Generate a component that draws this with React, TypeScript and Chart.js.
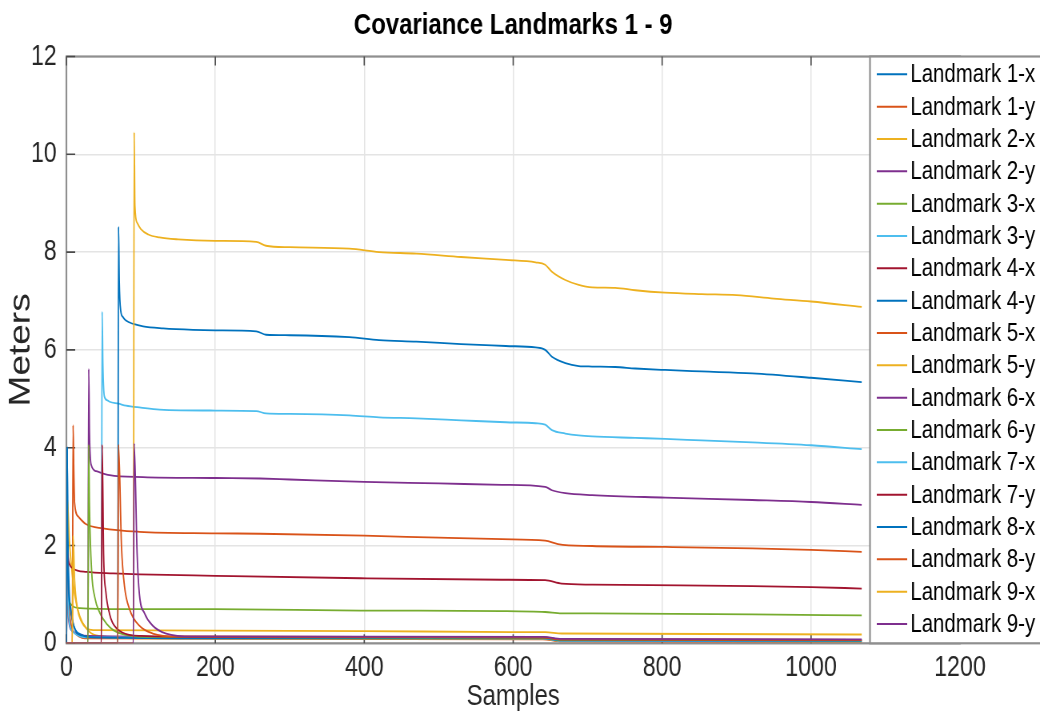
import React, { useEffect, useRef } from 'react';
import { Chart, registerables } from 'chart.js';

Chart.register(...registerables);

// ---------- data (sample, meters) ----------
const seriesNames = [
  'Landmark 1-x', 'Landmark 1-y', 'Landmark 2-x', 'Landmark 2-y', 'Landmark 3-x', 'Landmark 3-y',
  'Landmark 4-x', 'Landmark 4-y', 'Landmark 5-x', 'Landmark 5-y', 'Landmark 6-x', 'Landmark 6-y',
  'Landmark 7-x', 'Landmark 7-y', 'Landmark 8-x', 'Landmark 8-y', 'Landmark 9-x', 'Landmark 9-y',
];

const seriesColors = [
  '#0072BD', '#D95319', '#EDB120', '#7E2F8E', '#77AC30', '#4DBEEE', '#A2142F',
  '#0072BD', '#D95319', '#EDB120', '#7E2F8E', '#77AC30', '#4DBEEE', '#A2142F',
  '#0072BD', '#D95319', '#EDB120', '#7E2F8E',
];

const l1x = [[0, 0], [1, 4.0], [2, 2.2], [4, 1.0], [6, 0.7], [10, 0.36], [20, 0.18], [40, 0.12], [200, 0.1], [640, 0.09], [665, 0.05], [1068, 0.04]];
const l1y = [[0, 0], [1, 2.0], [3, 0.9], [6, 0.4], [12, 0.2], [30, 0.1], [640, 0.08], [665, 0.04], [1068, 0.03]];
const l2x = [[0, 0], [1, 3.0], [4, 2.1], [8, 1.4], [11, 1.0], [18, 0.55], [27, 0.3], [40, 0.16], [100, 0.1], [640, 0.09], [665, 0.05], [1068, 0.04]];
const l2y = [[0, 0], [1, 1.2], [3, 0.5], [8, 0.25], [30, 0.15], [200, 0.13], [640, 0.12], [665, 0.07], [1068, 0.06]];
const l3x = [[0, 0], [1, 1.4], [3, 0.95], [5, 0.82], [18, 0.72], [80, 0.7], [200, 0.7], [395, 0.67], [585, 0.66], [643, 0.64], [665, 0.61], [706, 0.61], [921, 0.59], [1068, 0.57]];
const l3y = [[0, 0], [1, 1.5], [3, 0.6], [8, 0.25], [30, 0.12], [640, 0.1], [665, 0.05], [1068, 0.04]];
const l4x = [[0, 0], [1, 1.9], [3, 1.68], [9, 1.53], [27, 1.46], [63, 1.43], [98, 1.41], [200, 1.38], [395, 1.33], [585, 1.3], [643, 1.29], [665, 1.22], [706, 1.2], [921, 1.17], [1000, 1.15], [1068, 1.12]];
const l4y = [[0, 0], [1, 4.0], [2, 1.6], [5, 0.75], [10, 0.34], [21, 0.16], [40, 0.12], [200, 0.1], [640, 0.1], [665, 0.06], [1068, 0.05]];
const l5x = [[0, 0], [8, 0], [9, 4.46], [10, 3.5], [11, 2.87], [16, 2.59], [26, 2.44], [49, 2.35], [98, 2.28], [200, 2.25], [260, 2.24], [400, 2.2], [500, 2.16], [585, 2.13], [643, 2.1], [660, 2.03], [706, 1.99], [804, 1.97], [921, 1.94], [1000, 1.91], [1068, 1.87]];
const l5y = [[0, 0], [8, 0], [9, 2.2], [11, 1.3], [15, 0.7], [20, 0.45], [27, 0.31], [36, 0.27], [200, 0.26], [400, 0.25], [600, 0.23], [643, 0.23], [665, 0.2], [1068, 0.18]];
const l6x = [[0, 0], [29, 0], [30, 5.61], [31, 4.3], [33.5, 3.64], [40, 3.52], [58, 3.44], [103, 3.4], [200, 3.38], [260, 3.37], [300, 3.35], [400, 3.3], [500, 3.27], [585, 3.24], [643, 3.2], [652, 3.13], [670, 3.07], [706, 3.03], [804, 2.98], [921, 2.93], [1000, 2.89], [1068, 2.83]];
const l6y = [[0, 0], [29, 0], [30, 4.06], [31, 2.8], [34, 1.45], [38, 0.95], [45, 0.62], [55, 0.38], [63, 0.27], [81, 0.17], [120, 0.13], [640, 0.11], [665, 0.07], [1068, 0.06]];
const l7x = [[0, 0], [47, 0], [48, 6.78], [49, 5.7], [51, 5.05], [55, 4.97], [58, 4.94], [70, 4.9], [80, 4.86], [100, 4.82], [125, 4.78], [200, 4.76], [255, 4.75], [268, 4.7], [300, 4.69], [380, 4.66], [420, 4.62], [470, 4.6], [530, 4.56], [590, 4.52], [630, 4.5], [643, 4.47], [652, 4.36], [670, 4.29], [688, 4.25], [706, 4.23], [764, 4.2], [804, 4.18], [853, 4.15], [921, 4.11], [1000, 4.05], [1068, 3.97]];
const l7y = [[0, 0], [47, 0], [48, 4.06], [50, 1.8], [53, 1.05], [58, 0.6], [62, 0.42], [75, 0.22], [100, 0.15], [200, 0.13], [640, 0.12], [665, 0.08], [1068, 0.07]];
const l8x = [[0, 0], [69, 0], [70, 8.52], [71, 7.4], [73, 6.8], [76, 6.67], [80, 6.6], [90, 6.53], [103, 6.48], [130, 6.44], [170, 6.41], [200, 6.4], [255, 6.38], [268, 6.31], [300, 6.3], [380, 6.26], [420, 6.2], [470, 6.17], [530, 6.12], [590, 6.08], [630, 6.05], [643, 6.0], [652, 5.86], [670, 5.73], [688, 5.67], [706, 5.66], [737, 5.65], [764, 5.62], [804, 5.59], [853, 5.56], [921, 5.52], [1000, 5.43], [1068, 5.34]];
const l8y = [[0, 0], [69, 0], [70, 4.06], [74, 1.98], [78, 1.17], [85, 0.69], [98, 0.36], [116, 0.2], [150, 0.14], [640, 0.12], [665, 0.08], [1068, 0.07]];
const l9x = [[0, 0], [90, 0], [91, 10.45], [92, 8.95], [95, 8.6], [100, 8.47], [110, 8.36], [125, 8.3], [150, 8.26], [200, 8.23], [255, 8.21], [268, 8.13], [300, 8.1], [380, 8.07], [420, 8.0], [470, 7.97], [530, 7.9], [590, 7.84], [630, 7.79], [643, 7.74], [652, 7.6], [670, 7.43], [688, 7.33], [706, 7.28], [737, 7.27], [764, 7.22], [804, 7.17], [853, 7.14], [900, 7.12], [950, 7.05], [1000, 6.99], [1068, 6.88]];
const l9y = [[0, 0], [90, 0], [91, 4.09], [95, 1.82], [98, 1.01], [105, 0.61], [116, 0.36], [134, 0.2], [170, 0.14], [640, 0.13], [665, 0.09], [1068, 0.08]];

const seriesPoints = [l1x, l1y, l2x, l2y, l3x, l3y, l4x, l4y, l5x, l5y, l6x, l6y, l7x, l7y, l8x, l8y, l9x, l9y];

const xTickValues = [0, 200, 400, 600, 800, 1000, 1200];
const yTickValues = [0, 2, 4, 6, 8, 10, 12];

const titleText = 'Covariance Landmarks 1 - 9';
const xTitle = 'Samples';
const yTitle = 'Meters';

// ---------- layout (logical canvas is drawn wider, then shown condensed) ----------
const LOGICAL_W = 1300;
const VIEW_W = 1040;
const VIEW_H = 719;
const FONT = '"Liberation Sans", Arial, Helvetica, sans-serif';

const axesBoxPlugin = {
  id: 'axesBox',
  beforeDatasetsDraw(chart: any) {
    const { ctx, chartArea } = chart;
    const { left, right, top, bottom } = chartArea;
    const xs = chart.scales.x;
    const ys = chart.scales.y;
    ctx.save();
    ctx.strokeStyle = '#8f8f8f';
    ctx.lineWidth = 2.2;
    ctx.strokeRect(left, top, right - left, bottom - top);
    ctx.strokeStyle = '#4a4a4a';
    ctx.lineWidth = 1.6;
    ctx.beginPath();
    xTickValues.forEach((v) => {
      const px = xs.getPixelForValue(v);
      ctx.moveTo(px, bottom);
      ctx.lineTo(px, bottom - 9);
      ctx.moveTo(px, top);
      ctx.lineTo(px, top + 9);
    });
    yTickValues.forEach((v) => {
      const py = ys.getPixelForValue(v);
      ctx.moveTo(left, py);
      ctx.lineTo(left + 11, py);
    });
    ctx.stroke();
    ctx.restore();
  },
};

const legendBoxPlugin = {
  id: 'legendBox',
  afterDraw(chart: any) {
    const { ctx, chartArea } = chart;
    const { top, bottom } = chartArea;
    const boxLeft = 1087.5;
    ctx.save();
    ctx.fillStyle = '#ffffff';
    ctx.fillRect(boxLeft, top, 260, bottom - top);
    ctx.strokeStyle = '#8f8f8f';
    ctx.lineWidth = 2.2;
    ctx.strokeRect(boxLeft, top, 260, bottom - top);
    ctx.font = `25.5px ${FONT}`;
    ctx.textBaseline = 'middle';
    ctx.textAlign = 'left';
    const first = top + 17.8;
    const step = (bottom - top - 37.1) / (chart.data.datasets.length - 1);
    chart.data.datasets.forEach((ds: any, i: number) => {
      const y = first + i * step;
      ctx.strokeStyle = ds.borderColor;
      ctx.lineWidth = 2;
      ctx.beginPath();
      ctx.moveTo(1096, y);
      ctx.lineTo(1134, y);
      ctx.stroke();
      ctx.fillStyle = '#000000';
      ctx.fillText(ds.label, 1138, y + 1);
    });
    ctx.restore();
  },
};

export default function App() {
  const canvasRef = useRef<HTMLCanvasElement | null>(null);

  useEffect(() => {
    if (!canvasRef.current) return;
    Chart.defaults.font.family = FONT;
    const n = seriesNames.length;
    const chart = new Chart(canvasRef.current, {
      type: 'line',
      data: {
        datasets: seriesNames.map((name, i) => ({
          label: name,
          data: seriesPoints[i].map(([x, y]) => ({ x, y })),
          borderColor: seriesColors[i],
          backgroundColor: seriesColors[i],
          borderWidth: 1.8,
          pointRadius: 0,
          pointHoverRadius: 0,
          fill: false,
          cubicInterpolationMode: 'monotone' as const,
          order: n - i,
        })),
      },
      options: {
        responsive: false,
        maintainAspectRatio: false,
        devicePixelRatio: 1,
        animation: false,
        events: [],
        layout: { padding: { left: 0, right: 100, top: 0, bottom: 0 } },
        plugins: {
          legend: { display: false },
          tooltip: { enabled: false },
          title: {
            display: true,
            fullSize: false,
            text: titleText,
            color: '#000000',
            font: { family: FONT, size: 30, weight: 'bold', lineHeight: 1.2 },
            padding: { top: 8, bottom: 12.5 },
          },
        },
        scales: {
          x: {
            type: 'linear',
            min: 0,
            max: 1200,
            afterBuildTicks: (scale: any) => {
              scale.ticks = xTickValues.map((v) => ({ value: v }));
            },
            afterFit: (scale: any) => {
              scale.height = VIEW_H - 643.3;
            },
            ticks: {
              autoSkip: false,
              maxRotation: 0,
              padding: 7.4,
              color: '#262626',
              font: { family: FONT, size: 29, lineHeight: 1.2 },
              callback: (v: any) => String(v),
            },
            grid: { color: '#e4e4e4', lineWidth: 1.5, drawTicks: false },
            border: { display: false },
            title: {
              display: true,
              text: xTitle,
              color: '#262626',
              font: { family: FONT, size: 30, lineHeight: 1.2 },
              padding: { top: 0, bottom: 4 },
            },
          },
          y: {
            type: 'linear',
            min: 0,
            max: 12,
            afterBuildTicks: (scale: any) => {
              scale.ticks = yTickValues.map((v) => ({ value: v }));
            },
            afterFit: (scale: any) => {
              scale.width = 83;
            },
            ticks: {
              padding: 12,
              color: '#262626',
              font: { family: FONT, size: 29, lineHeight: 1.2 },
              callback: (v: any) => String(v),
            },
            grid: { color: '#e4e4e4', lineWidth: 1.5, drawTicks: false },
            border: { display: false },
            title: {
              display: true,
              text: yTitle,
              color: '#262626',
              font: { family: FONT, size: 37, lineHeight: 1.2 },
              padding: { top: 5, bottom: 0 },
            },
          },
        },
      },
      plugins: [axesBoxPlugin, legendBoxPlugin],
    } as any);
    return () => {
      chart.destroy();
    };
  }, []);

  return (
    <div style={{ position: 'absolute', left: 0, top: 0, width: VIEW_W, height: VIEW_H, background: '#ffffff' }}>
      <canvas
        ref={canvasRef}
        width={LOGICAL_W}
        height={VIEW_H}
        style={{ width: `${VIEW_W}px`, height: `${VIEW_H}px`, display: 'block' }}
      />
    </div>
  );
}
